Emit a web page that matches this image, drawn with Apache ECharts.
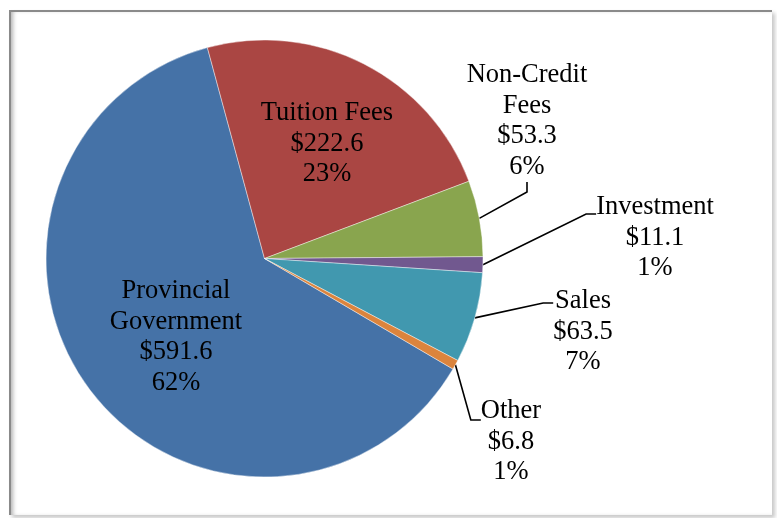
<!DOCTYPE html>
<html>
<head>
<meta charset="utf-8">
<script src="https://cdn.jsdelivr.net/npm/echarts@6/dist/echarts.min.js"></script>
<style>
  html, body { margin: 0; padding: 0; background: #fff; }
  .frame {
    position: absolute;
    left: 9px; top: 10px;
    width: 761px; height: 503px;
    background: #fff;
    border-top: 2px solid #8a8a8a;
    border-left: 2px solid #8a8a8a;
    box-shadow: inset 4px 0 4px -2px rgba(0, 0, 0, 0.3), 3px 3px 4px rgba(0, 0, 0, 0.22);
  }
  #chart { position: absolute; left: 0; top: 0; width: 777px; height: 518px; }
</style>
</head>
<body>
<div class="frame"></div>
<div id="chart"></div>
<script>
// revenue sources ($ millions)
const categories = ['Provincial\nGovernment', 'Tuition Fees', 'Non-Credit\nFees', 'Investment', 'Sales', 'Other']
const amounts = [591.6, 222.6, 53.3, 11.1, 63.5, 6.8]

const colors = ['#4572A7', '#AA4643', '#89A54E', '#71588F', '#4198AF', '#DB843D']
const insideLabel = [true, true, false, false, false, false]
// label box anchors (page px); an empty top line of labelGap px pulls the
// box middle up so the leader line meets the label near its first line
const labelSpots = [[176, 337], [327, 144], [527, 121], [655, 214], [583, 303], [511, 420]]
const labelGap = [0, 0, 0, 48, 58, 44]

const chart = echarts.init(document.getElementById('chart'))

chart.setOption({
  backgroundColor: 'transparent',
  animation: false,
  series: [
    {
      type: 'pie',
      center: [264.5, 258.5],
      radius: 218.5,
      startAngle: 329.6,
      clockwise: true,
      avoidLabelOverlap: false,
      itemStyle: { borderColor: 'rgba(255,255,255,0.7)', borderWidth: 0.6 },
      label: {
        color: '#000',
        fontFamily: '"Liberation Serif", "Times New Roman", serif',
        fontSize: 26.5,
        lineHeight: 30.5,
        align: 'center',
        formatter: (p) => {
          const txt = `${p.name}\n$${p.value.toFixed(1)}\n${Math.round(p.percent)}%`
          return labelGap[p.dataIndex] ? `{gap| }\n${txt}` : txt
        },
      },
      labelLine: {
        length: 10,
        length2: 10,
        lineStyle: { color: '#000', width: 1.6 },
      },
      labelLayout: (p) => ({
        x: labelSpots[p.dataIndex][0],
        y: labelSpots[p.dataIndex][1],
        align: 'center',
        verticalAlign: 'middle',
      }),
      emphasis: { disabled: true },
      data: amounts.map((v, i) => ({
        name: categories[i],
        value: v,
        itemStyle: { color: colors[i] },
        label: {
          position: insideLabel[i] ? 'inside' : 'outside',
          rich: { gap: { fontSize: 1, lineHeight: labelGap[i] || 1 } },
        },
        labelLine: { show: !insideLabel[i] },
      })),
    },
  ],
})
</script>
</body>
</html>
